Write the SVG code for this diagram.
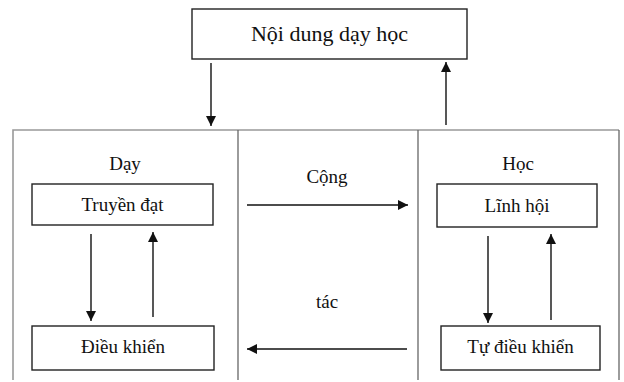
<svg xmlns="http://www.w3.org/2000/svg" width="624" height="382" viewBox="0 0 624 382">
<style>
text{font-family:"Liberation Serif","Times New Roman",serif;fill:#111;text-anchor:middle}
.t{font-size:19px}
.big{font-size:22px}
.box{fill:#fff;stroke:#222;stroke-width:1.4}
.frame{stroke:#999;stroke-width:1.6;fill:none}
.div{stroke:#666;stroke-width:1.3;fill:none}
.c{stroke:#111;stroke-width:1.4;fill:none;marker-end:url(#ah)}
</style>
<defs>
<marker id="ah" viewBox="0 0 10 10" refX="10" refY="5" markerWidth="10" markerHeight="10" markerUnits="userSpaceOnUse" orient="auto">
<path d="M0,0 L10,5 L0,10 z" fill="#111"/>
</marker>
</defs>
<g id="frame">
<path class="frame" d="M13,380 V130 H619"/>
<line class="div" x1="238" y1="130" x2="238" y2="380"/>
<line class="div" x1="418" y1="130" x2="418" y2="380"/>
<line class="div" x1="619" y1="130" x2="619" y2="380"/>
</g>
<g id="noidung">
<rect class="box" x="192" y="9" width="275" height="50"/>
<text class="big" x="329.500" y="41">Nội dung dạy học</text>
</g>
<g id="day"><text class="t" x="125" y="170">Dạy</text></g>
<g id="hoc"><text class="t" x="518" y="170">Học</text></g>
<g id="truyendat">
<rect class="box" x="32" y="184" width="181" height="41"/>
<text class="t" x="122.500" y="211">Truyền đạt</text>
</g>
<g id="dieukhien">
<rect class="box" x="32" y="326" width="182" height="44"/>
<text class="t" x="123" y="353">Điều khiển</text>
</g>
<g id="linhhoi">
<rect class="box" x="437" y="184" width="160" height="43"/>
<text class="t" x="517" y="212">Lĩnh hội</text>
</g>
<g id="tudieukhien">
<rect class="box" x="441" y="326" width="159" height="44"/>
<text class="t" x="520.500" y="353">Tự điều khiển</text>
</g>
<g id="labels">
<text class="t" x="327" y="183">Cộng</text>
<text class="t" x="327" y="308">tác</text>
</g>
<g id="connectors">
<line class="c" x1="211" y1="63" x2="211" y2="126"/>
<line class="c" x1="446" y1="125" x2="446" y2="62"/>
<line class="c" x1="91" y1="234" x2="91" y2="321"/>
<line class="c" x1="153" y1="317" x2="153" y2="232"/>
<line class="c" x1="488" y1="236" x2="488" y2="323"/>
<line class="c" x1="551" y1="320" x2="551" y2="234"/>
<line class="c" x1="247" y1="205" x2="408" y2="205"/>
<line class="c" x1="407" y1="349" x2="247" y2="349"/>
</g>
</svg>
